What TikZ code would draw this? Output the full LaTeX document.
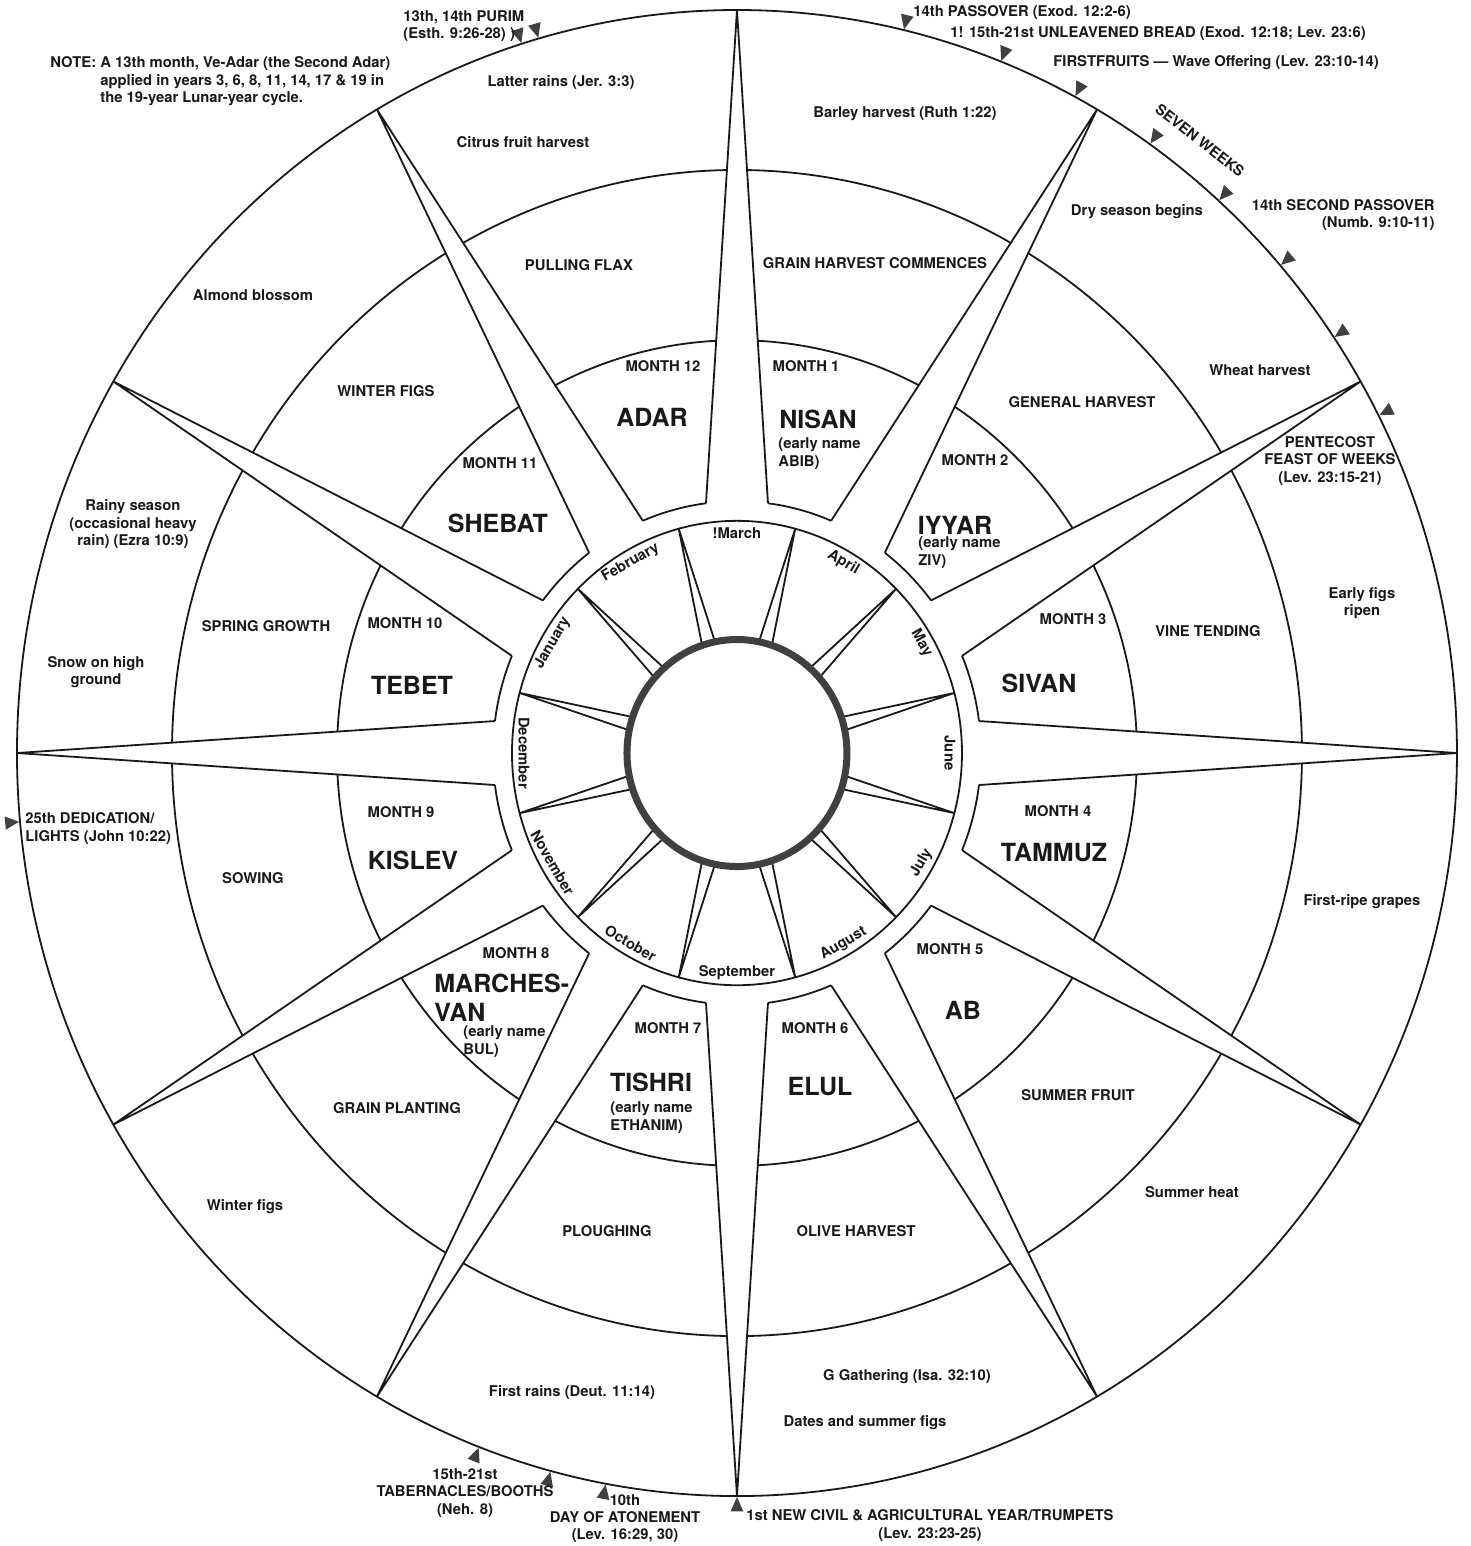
\documentclass[tikz,border=0pt]{standalone}
\usepackage{fontspec}
\setmainfont{TeX Gyre Heros}
\begin{document}
\begin{tikzpicture}[x=0.5pt,y=0.5pt,yscale=1.032,
    ring/.style={line width=0.9pt,draw=black!90},
    lbl/.style={font=\fontsize{7.4}{8.6}\selectfont\bfseries,align=center,inner sep=0pt,text=black!90},
    heb/.style={font=\fontsize{12.5}{14.5}\selectfont\bfseries,align=left,inner sep=0pt,text=black!90},
    feast/.style={fill=black!75}]
  \useasboundingbox (-737,-768.4) rectangle (734,729.7);
  % Rings
  \draw[ring] (0,0) circle (720);
  \draw[ring] (0,0) circle (565);
  \draw[ring] (0,0) circle (400);
  \draw[ring] (0,0) circle (225);
  % Compass points
  \foreach \a in {0,30,...,330}{
    \fill[white] (\a:720) -- ({\a+7.3}:244) -- ({\a-7.3}:244) -- cycle;
    \draw[ring] ({\a+7.3}:244) -- (\a:720) -- ({\a-7.3}:244);
    \draw[ring] ({\a+7.3}:244) arc[start angle=\a+7.3, end angle=\a+22.7, radius=244];
  }
  % Calendar months
  \foreach \a in {15,45,...,345}
    \draw[ring] ({\a+3.4}:111) -- (\a:225) -- ({\a-3.4}:111);
  \draw[line width=3.5pt,draw=black!75] (0,0) circle (110);
  % Feast markers
  \foreach \a in {107.4,106,76.6,68.5,62,55,48,41,34,27,185.3,249,255,259.5,270}
    \fill[feast] (\a:721) -- ({\a-0.5}:735) -- ({\a+0.5}:735) -- cycle;

  % Feasts
  \node[lbl,anchor=west,align=left] (purim) at (-334,704.5) {13th, 14th PURIM\\(Esth. 9:26-28) )};
  \node[lbl,anchor=west,align=left] (note) at (-687,651) {NOTE: A 13th month, Ve-Adar (the Second Adar)\\
    \phantom{NOTE: }applied in years 3, 6, 8, 11, 14, 17 \& 19 in\\
    \phantom{NOTE: }the 19-year Lunar-year cycle.};
  \node[lbl,anchor=west] (passover) at (176,718) {14th PASSOVER (Exod. 12:2-6)};
  \node[lbl,anchor=west] (bread) at (213,696.7) {1! 15th-21st UNLEAVENED BREAD (Exod. 12:18; Lev. 23:6)};
  \node[lbl,anchor=west] (firstfruits) at (316,668.6) {FIRSTFRUITS --- Wave Offering (Lev. 23:10-14)};
  \node[lbl,rotate=-38] (weeks) at (463,594) {SEVEN WEEKS};
  \node[lbl,anchor=east,align=right] (second) at (698,521.3) {14th SECOND PASSOVER\\(Numb. 9:10-11)};
  \node[lbl] (pentecost) at (593,283) {PENTECOST\\FEAST OF WEEKS\\(Lev. 23:15-21)};
  \node[lbl,anchor=west,align=left] (lights) at (-712,-73.2) {25th DEDICATION/\\LIGHTS (John 10:22)};
  \node[lbl] (booths) at (-272,-717) {15th-21st\\TABERNACLES/BOOTHS\\(Neh. 8)};
  \node[lbl] (atonement) at (-112,-742) {10th\\DAY OF ATONEMENT\\(Lev. 16:29, 30)};
  \node[lbl] (trumpets) at (193,-748.5) {1st NEW CIVIL \& AGRICULTURAL YEAR/TRUMPETS\\(Lev. 23:23-25)};

  % Seasons
  \node[lbl] (latter) at (-176,650.2) {Latter rains (Jer. 3:3)};
  \node[lbl] (citrus) at (-214,592) {Citrus fruit harvest};
  \node[lbl] (barley) at (168,619.2) {Barley harvest (Ruth 1:22)};
  \node[lbl] (dry) at (400,524.2) {Dry season begins};
  \node[lbl] (wheat) at (523,371.1) {Wheat harvest};
  \node[lbl] (earlyfigs) at (625,145.3) {Early figs\\ripen};
  \node[lbl] (grapes) at (625,-144.4) {First-ripe grapes};
  \node[lbl] (heat) at (455,-425.4) {Summer heat};
  \node[lbl] (gathering) at (170,-604.7) {G Gathering (Isa. 32:10)};
  \node[lbl] (dates) at (128,-649.2) {Dates and summer figs};
  \node[lbl] (firstrains) at (-165,-619.2) {First rains (Deut. 11:14)};
  \node[lbl] (winterfigs) at (-492,-439.9) {Winter figs};
  \node[lbl] (snow) at (-641,78.5) {Snow on high\\ground};
  \node[lbl] (rainy) at (-604,221.9) {Rainy season\\(occasional heavy\\rain) (Ezra 10:9)};
  \node[lbl] (almond) at (-484,443.8) {Almond blossom};

  % Work of the year
  \node[lbl] (flax) at (-158,472.9) {PULLING FLAX};
  \node[lbl] (grain) at (138,474.8) {GRAIN HARVEST COMMENCES};
  \node[lbl] (general) at (345,340.1) {GENERAL HARVEST};
  \node[lbl] (vine) at (471,118.2) {VINE TENDING};
  \node[lbl] (fruit) at (341,-331.4) {SUMMER FRUIT};
  \node[lbl] (olive) at (119,-463.2) {OLIVE HARVEST};
  \node[lbl] (plough) at (-130,-463.2) {PLOUGHING};
  \node[lbl] (planting) at (-340,-344) {GRAIN PLANTING};
  \node[lbl] (sowing) at (-484,-121.1) {SOWING};
  \node[lbl] (spring) at (-471,123.1) {SPRING GROWTH};
  \node[lbl] (figs) at (-351,350.8) {WINTER FIGS};

  % Hebrew months
  \node[lbl] (n12) at (-74,375) {MONTH 12};
  \node[heb] (adar) at (-85,325.6) {ADAR};
  \node[lbl] (n1) at (69,375) {MONTH 1};
  \node[heb] (nisan) at (81,323.6) {NISAN};
  \node[lbl,anchor=west,align=left] (abib) at (41,290.2) {(early name\\ABIB)};
  \node[lbl] (n2) at (238,283.9) {MONTH 2};
  \node[heb] (iyyar) at (218,220.9) {IYYAR};
  \node[lbl,anchor=west,align=left] (ziv) at (181,194.3) {(early name\\ZIV)};
  \node[lbl] (n3) at (336,129.8) {MONTH 3};
  \node[heb] (sivan) at (302,67.8) {SIVAN};
  \node[lbl] (n4) at (321,-56.2) {MONTH 4};
  \node[heb] (tammuz) at (317,-96.9) {TAMMUZ};
  \node[lbl] (n5) at (213,-189.9) {MONTH 5};
  \node[heb] (ab) at (226,-249) {AB};
  \node[lbl] (n6) at (78,-266.5) {MONTH 6};
  \node[heb] (elul) at (83,-323.6) {ELUL};
  \node[lbl] (n7) at (-69,-266.5) {MONTH 7};
  \node[heb] (tishri) at (-86,-318.8) {TISHRI};
  \node[lbl,anchor=west,align=left] (ethanim) at (-127,-353.2) {(early name\\ETHANIM)};
  \node[lbl] (n8) at (-221,-193.8) {MONTH 8};
  \node[heb,anchor=west] (marchesvan) at (-303,-236.9) {MARCHES-\\VAN};
  \node[lbl,anchor=west,align=left] (bul) at (-274,-279.6) {(early name\\BUL)};
  \node[lbl] (n9) at (-336,-57.2) {MONTH 9};
  \node[heb] (kislev) at (-324,-103.7) {KISLEV};
  \node[lbl] (n10) at (-332,126) {MONTH 10};
  \node[heb] (tebet) at (-325,65.9) {TEBET};
  \node[lbl] (n11) at (-237,281) {MONTH 11};
  \node[heb] (shebat) at (-239,222.9) {SHEBAT};

  % Calendar month names
  \foreach \m/\a/\r [count=\i] in {!March/90/0, April/60/-30, May/30/-60, June/0/-90,
      July/-30/60, August/-60/30, September/-90/0, October/-120/-30,
      November/-150/-60, December/-180/-90, January/150/60, February/120/30}
    \node[lbl,rotate=\r] (cal\i) at (\a:213) {\m};
\end{tikzpicture}
\end{document}
